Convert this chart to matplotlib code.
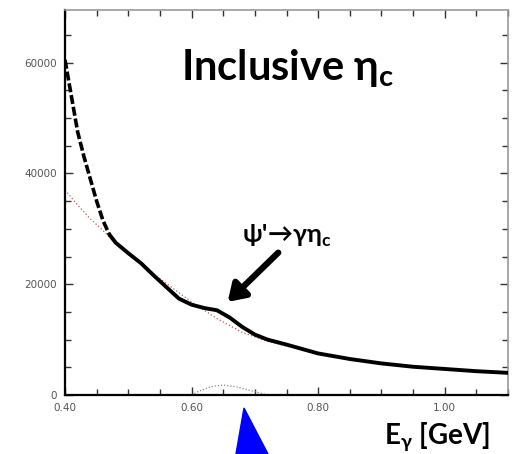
import numpy as np
import matplotlib.pyplot as plt
from matplotlib.patches import Polygon

# photon energy spectrum (inclusive), fitted background and extracted signal
e_data = [0.40, 0.41, 0.42, 0.43, 0.44, 0.45, 0.46, 0.47, 0.48, 0.50, 0.52,
          0.54, 0.56, 0.58, 0.60, 0.62, 0.64, 0.66, 0.68, 0.70, 0.72, 0.75,
          0.80, 0.85, 0.90, 0.95, 1.00, 1.05, 1.10]
n_data = [60500, 54000, 47500, 43000, 39000, 35000, 31500, 29000, 27500,
          25600, 23800, 21600, 19500, 17400, 16300, 15700, 15300, 14000,
          12300, 10900, 10000, 9100, 7500, 6500, 5700, 5100, 4700, 4300, 4000]

e_bkg = [0.40, 0.42, 0.44, 0.46, 0.48, 0.50, 0.55, 0.60, 0.64, 0.68, 0.72,
         0.80, 0.90, 1.00, 1.10]
n_bkg = [37000, 34300, 31800, 29700, 27400, 25500, 21000, 16800, 13800,
         11300, 9700, 7400, 5700, 4600, 3900]

e_sig = [0.60, 0.61, 0.63, 0.65, 0.67, 0.69, 0.71, 0.72]
n_sig = [0, 600, 1500, 1800, 1500, 900, 300, 0]

fig = plt.figure(figsize=(5.12, 4.54), dpi=100)
ax = fig.add_axes([65/512, 59/454, 443/512, 385/454])

ax.plot(e_bkg, n_bkg, color='#c05a57', lw=0.9, ls=(0, (1, 1.8)), zorder=2)
ax.plot(e_sig, n_sig, color='#888888', lw=0.9, ls=(0, (1, 1.5)), zorder=2)

# steep low-energy part shows as separated points
k = 8
ax.plot(e_data[:k], n_data[:k], color='black', lw=2.6,
        ls=(0, (2.5, 0.8)), zorder=3)
ax.plot(e_data[k-1:], n_data[k-1:], color='black', lw=2.8,
        solid_capstyle='round', solid_joinstyle='round', zorder=3)

ax.set_xlim(0.40, 1.098)
ax.set_ylim(0, 69500)
ax.set_xticks([0.40, 0.60, 0.80, 1.00])
ax.set_xticklabels(['0.40', '0.60', '0.80', '1.00'])
ax.set_xticks(np.arange(0.45, 1.1, 0.05), minor=True)
ax.set_yticks([0, 20000, 40000, 60000])
ax.set_yticklabels(['0', '20000', '40000', '60000'])
ax.set_yticks(np.arange(5000, 69000, 5000), minor=True)
ax.tick_params(which='both', direction='in', top=True, right=True,
               labelsize=7.5, labelcolor='#555555', color='#333333')
ax.tick_params(which='major', length=6, width=1.0, pad=6)
ax.tick_params(which='minor', length=4, width=1.0)

ax.spines['left'].set_linewidth(1.6)
ax.spines['bottom'].set_linewidth(1.6)
for s in ('top', 'right'):
    ax.spines[s].set_color('#999999')
    ax.spines[s].set_linewidth(1.2)

ax.text(0.752, 59000, 'Inclusive \u03b7$_\\mathregular{c}$', ha='center',
        va='center', fontsize=30, fontweight='bold',
        family=['Lato', 'DejaVu Sans'])
ax.text(0.75, 28800, "\u03c8'\u2192\u03b3\u03b7$_\\mathregular{c}$",
        ha='center', va='center', fontsize=18, fontweight='bold',
        family=['Lato', 'DejaVu Sans'])
ax.annotate('', xy=(0.657, 16800), xytext=(0.737, 25700),
            arrowprops=dict(arrowstyle='-|>,head_length=1.0,head_width=0.65',
                            lw=4.5, color='black', shrinkA=0, shrinkB=0))

fig.text(437/512, 1 - 437/454, 'E$_\\mathregular{\u03b3}$ [GeV]',
         ha='center', va='center', fontsize=20, fontweight='bold',
         family=['Lato', 'DejaVu Sans'])

# blue pointer under the axis
fig.patches.append(Polygon([[244/512, 1 - 408/454], [236/512, 0.0],
                            [268/512, 0.0]], closed=True, color='#0000ff',
                           transform=fig.transFigure, figure=fig))

fig.savefig('out.png', dpi=100)
